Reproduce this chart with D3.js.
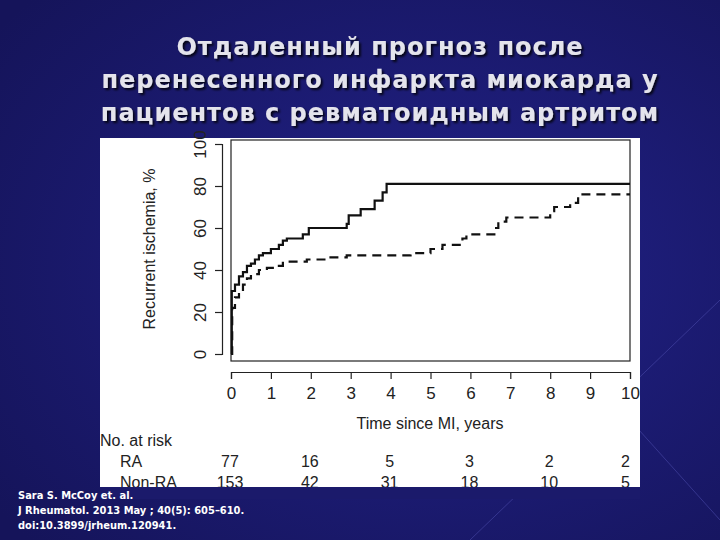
<!DOCTYPE html>
<html>
<head>
<meta charset="utf-8">
<style>
  body { margin: 0; background: #1b1a6b; }
  svg { display: block; }
</style>
</head>
<body>
<script src="https://d3js.org/d3.v7.min.js"></script>
<script>
const titleLines = ["Отдаленный прогноз после", "перенесенного инфаркта миокарда у", "пациентов с ревматоидным артритом"];
const citation = ["Sara S. McCoy et. al.", "J Rheumatol. 2013 May ; 40(5): 605–610.", "doi:10.3899/jrheum.120941."];
// step points [years, %]
const raSteps = [[0,0],[0.02,30],[0.1,33],[0.2,37],[0.3,39],[0.4,42],[0.5,43],[0.6,45],[0.7,47],[0.8,48],[1.0,50],[1.2,52],[1.3,54],[1.4,55],[1.8,57],[1.95,60],[2.9,62],[2.95,66],[3.25,69],[3.6,73],[3.8,77],[3.9,81],[10,81]];
const nonRaSteps = [[0,0],[0.03,22],[0.1,27],[0.2,30],[0.3,33],[0.4,36],[0.5,38],[0.7,40],[0.9,41],[1.1,42],[1.3,44],[1.9,45],[2.4,46],[2.9,47],[4.5,48],[5.0,50],[5.3,52],[5.8,55],[5.9,57],[6.6,60],[6.7,63],[6.9,65],[8.0,68],[8.1,70],[8.5,72],[8.7,76],[10,76]];
const xTicks = d3.range(0, 11);
const yTicks = [0, 20, 40, 60, 80, 100];
const riskYears = [0, 2, 4, 6, 8, 10];
const riskRA = [77, 16, 5, 3, 2, 2];
const riskNonRA = [153, 42, 31, 18, 10, 5];

const svg = d3.select("body").append("svg").attr("width", 720).attr("height", 540);
const defs = svg.append("defs");
const g = defs.append("radialGradient").attr("id", "bg").attr("cx", "60%").attr("cy", "50%").attr("r", "75%");
g.append("stop").attr("offset", "0%").attr("stop-color", "#22228a");
g.append("stop").attr("offset", "100%").attr("stop-color", "#15145a");
const f = defs.append("filter").attr("id", "sh");
f.append("feDropShadow").attr("dx", 2).attr("dy", 2).attr("stdDeviation", 1).attr("flood-color", "#000").attr("flood-opacity", 0.8);
svg.append("rect").attr("width", 720).attr("height", 540).attr("fill", "url(#bg)");
// decorative lines
svg.append("path").attr("d", "M470,540 L720,300 M630,420 L720,520").attr("stroke", "#4a4aa8").attr("stroke-width", 1).attr("opacity", 0.6).attr("fill", "none");

svg.selectAll("text.title").data(titleLines).join("text")
  .attr("x", 380).attr("y", (d, i) => 55 + i * 33)
  .attr("text-anchor", "middle").attr("fill", "#e4e4ec").attr("filter", "url(#sh)")
  .style("font-family", "DejaVu Sans").style("font-weight", "bold").style("font-size", "24px")
  .style("letter-spacing", "1px").text(d => d);

svg.append("rect").attr("x", 100).attr("y", 138).attr("width", 540).attr("height", 349).attr("fill", "#fff");

const x = d3.scaleLinear().domain([0, 10]).range([231, 630]);
const y = d3.scaleLinear().domain([0, 100]).range([354, 144]);
const font = "Liberation Sans";
const ink = "#222";

svg.append("rect").attr("x", 231).attr("y", 140).attr("width", 399).attr("height", 221)
  .attr("fill", "none").attr("stroke", ink).attr("stroke-width", 1.2);

const xAxis = svg.append("g").attr("transform", "translate(0,372)")
  .call(d3.axisBottom(x).tickValues(xTicks).tickSize(7).tickPadding(5));
const yAxis = svg.append("g").attr("transform", "translate(222,0)")
  .call(d3.axisLeft(y).tickValues(yTicks).tickSize(7).tickPadding(6));
[xAxis, yAxis].forEach(a => {
  a.select(".domain").attr("stroke", ink).attr("stroke-width", 1.2);
  a.selectAll(".tick line").attr("stroke", ink).attr("stroke-width", 1.2);
  a.selectAll("text").attr("fill", ink).style("font-family", font).style("font-size", "17px");
});
yAxis.selectAll(".tick text").attr("x", -22).attr("dy", 0).attr("text-anchor", "middle")
  .attr("transform", "rotate(-90,-22,0)").attr("dominant-baseline", "central");
xAxis.selectAll(".tick text").attr("dy", "0.9em");

svg.append("text").attr("transform", "translate(155,249) rotate(-90)").attr("text-anchor", "middle")
  .attr("fill", ink).style("font-family", font).style("font-size", "16px").text("Recurrent ischemia, %");
svg.append("text").attr("x", 430).attr("y", 429).attr("text-anchor", "middle")
  .attr("fill", ink).style("font-family", font).style("font-size", "16px").text("Time since MI, years");

const line = d3.line().x(d => x(d[0])).y(d => y(d[1])).curve(d3.curveStepAfter);
svg.append("path").datum(raSteps).attr("d", line).attr("fill", "none").attr("stroke", "#111").attr("stroke-width", 2.2);
svg.append("path").datum(nonRaSteps).attr("d", line).attr("fill", "none").attr("stroke", "#111").attr("stroke-width", 2.2).attr("stroke-dasharray", "9,6");

const tStyle = s => s.attr("fill", ink).style("font-family", font).style("font-size", "16px");
tStyle(svg.append("text").attr("x", 100).attr("y", 446).text("No. at risk"));
tStyle(svg.append("text").attr("x", 120).attr("y", 467).text("RA"));
tStyle(svg.append("text").attr("x", 120).attr("y", 488).text("Non-RA"));
tStyle(svg.selectAll("text.ra").data(riskRA).join("text").attr("x", (d, i) => x(riskYears[i]) + (i === 5 ? 0 : -1))
  .attr("y", 467).attr("text-anchor", (d, i) => i === 5 ? "end" : "middle").text(d => d));
tStyle(svg.selectAll("text.nra").data(riskNonRA).join("text").attr("x", (d, i) => x(riskYears[i]) + (i === 5 ? 0 : -1))
  .attr("y", 488).attr("text-anchor", (d, i) => i === 5 ? "end" : "middle").text(d => d));
// panel clips bottom of last row
svg.append("rect").attr("x", 100).attr("y", 487).attr("width", 540).attr("height", 12).attr("fill", "#1b1a6b");

svg.selectAll("text.cit").data(citation).join("text")
  .attr("x", 18).attr("y", (d, i) => 499 + i * 15).attr("fill", "#fff")
  .style("font-family", "DejaVu Sans Condensed").style("font-weight", "bold").style("font-size", "11px").text(d => d);
</script>
</body>
</html>
